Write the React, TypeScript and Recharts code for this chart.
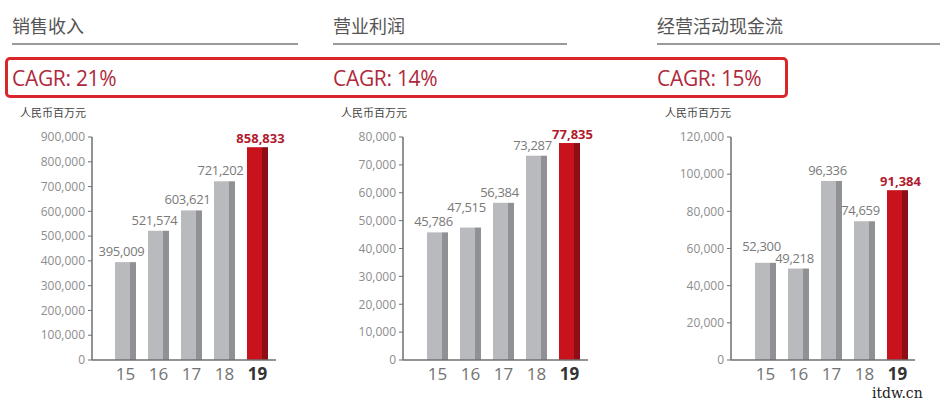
import React from 'react';
import { BarChart, Bar, XAxis, YAxis, LabelList } from 'recharts';

const years = ['15', '16', '17', '18', '19'];
const revenue = [395009, 521574, 603621, 721202, 858833];
const opProfit = [45786, 47515, 56384, 73287, 77835];
const opCashFlow = [52300, 49218, 96336, 74659, 91384];

const revenueTicks = [0, 100000, 200000, 300000, 400000, 500000, 600000, 700000, 800000, 900000];
const profitTicks = [0, 10000, 20000, 30000, 40000, 50000, 60000, 70000, 80000];
const cashTicks = [0, 20000, 40000, 60000, 80000, 100000, 120000];

const titles = ['销售收入', '营业利润', '经营活动现金流'];
const cagrs = ['CAGR: 21%', 'CAGR: 14%', 'CAGR: 15%'];

const GRAY = '#b9babe';
const GRAY_DARK = '#8f9195';
const RED = '#c8131c';
const RED_DARK = '#8e0e17';
const FONT = '"Open Sans", "Noto Sans CJK SC", sans-serif';

const fmt = (v: number) => v.toLocaleString('en-US');

function TwoToneBar(props: any) {
    const { x, y, width, height, payload } = props;
    if (!height || height <= 0) return null;
    const hi = payload.year === '19';
    const strip = Math.round(width * 0.27);
    return (
        <g>
            <rect x={x} y={y} width={width - strip} height={height} fill={hi ? RED : GRAY} />
            <rect x={x + width - strip} y={y} width={strip} height={height} fill={hi ? RED_DARK : GRAY_DARK} />
        </g>
    );
}

// lift: extra px to raise a label so neighbours don't collide (as in the original)
const makeValueLabel = (lift: number[]) => (props: any) => {
    const { x, y, width, value, index } = props;
    const hi = index === 4;
    return (
        <text
            x={x + width / 2 + (hi ? 3 : -4)}
            y={y - (hi ? 4 : 6) - (lift[index] || 0)}
            textAnchor="middle"
            fontFamily={FONT}
            fontSize={13}
            fontWeight={hi ? 700 : 400}
            letterSpacing={hi ? 0 : -0.3}
            fill={hi ? '#b01c2e' : '#7a7a7a'}
        >
            {fmt(value)}
        </text>
    );
};

function XTick(props: any) {
    const { x, y, payload } = props;
    const hi = payload.value === '19';
    return (
        <text x={x} y={y} dy="0.71em" textAnchor="middle" fontFamily={FONT} fontSize={17}
            fontWeight={hi ? 700 : 400} fill={hi ? '#333' : '#727272'}>
            {payload.value}
        </text>
    );
}

interface PanelProps {
    left: number;
    width: number;
    axisWidth: number;
    marginRight: number;
    padLeft: number;
    padRight: number;
    values: number[];
    ticks: number[];
    lift: number[];
}

function Panel({ left, width, axisWidth, marginRight, padLeft, padRight, values, ticks, lift }: PanelProps) {
    const data = years.map((year, i) => ({ year, value: values[i] }));
    const ValueLabel = makeValueLabel(lift);
    return (
        <div style={{ position: 'absolute', left, top: 120 }}>
            <BarChart width={width} height={280} data={data} margin={{ top: 17, right: marginRight, bottom: 10, left: 0 }}>
                <XAxis dataKey="year" height={30} padding={{ left: padLeft, right: padRight }}
                    axisLine={{ stroke: '#6f6f6f', strokeWidth: 1.5 }} tickLine={false} tickSize={0} tickMargin={8}
                    tick={<XTick />} interval={0} />
                <YAxis width={axisWidth} domain={[0, ticks[ticks.length - 1]]} ticks={ticks} interval={0}
                    axisLine={{ stroke: '#6f6f6f', strokeWidth: 1.5 }} tickLine={{ stroke: '#6f6f6f' }}
                    tickSize={4} tickMargin={3} tickFormatter={fmt}
                    tick={{ fontSize: 12, fill: '#8d8d8d', fontFamily: FONT }} />
                <Bar dataKey="value" barSize={21} shape={<TwoToneBar />} isAnimationActive={false}>
                    <LabelList dataKey="value" content={<ValueLabel />} />
                </Bar>
            </BarChart>
        </div>
    );
}

const headerX = [12, 333, 657];
const underlineEnd = [298, 567, 940];

export default function App() {
    return (
        <div style={{ position: 'absolute', left: 0, top: 0, width: 952, height: 400, background: '#fff', fontFamily: FONT, overflow: 'hidden' }}>
            {titles.map((t, i) => (
                <React.Fragment key={t}>
                    <div style={{ position: 'absolute', left: headerX[i], top: 12, fontSize: 18, color: '#555', fontFamily: '"Noto Sans CJK SC", sans-serif', lineHeight: '26px' }}>{t}</div>
                    <div style={{ position: 'absolute', left: headerX[i], top: 43, width: underlineEnd[i] - headerX[i], height: 2, background: '#9a9a9a' }} />
                    <div style={{ position: 'absolute', left: headerX[i], top: 64, fontSize: 21, color: '#ae2a3c', lineHeight: '28px', letterSpacing: -0.3 }}>{cagrs[i]}</div>
                    <div style={{ position: 'absolute', left: headerX[i] + 8, top: 104, fontSize: 11, color: '#444', fontFamily: '"Noto Sans CJK SC", sans-serif', lineHeight: '16px' }}>人民币百万元</div>
                </React.Fragment>
            ))}
            <div style={{ position: 'absolute', left: 5, top: 57, width: 783, height: 41, border: '3.5px solid #d9262b', borderRadius: 5, boxSizing: 'border-box' }} />

            <Panel left={0} width={300} axisWidth={92} marginRight={24} padLeft={17} padRight={2} values={revenue} ticks={revenueTicks} lift={[0, 0, 0, 0, 0]} />
            <Panel left={320} width={280} axisWidth={83} marginRight={12} padLeft={18} padRight={2} values={opProfit} ticks={profitTicks} lift={[0, 10, 0, 0, 0]} />
            <Panel left={640} width={300} axisWidth={91} marginRight={25} padLeft={18} padRight={1} values={opCashFlow} ticks={cashTicks} lift={[6, 0, 0, 0, 0]} />

            <div style={{ position: 'absolute', left: 872, top: 386, fontSize: 14, lineHeight: '14px', fontFamily: '"DejaVu Serif", serif', color: '#222', whiteSpace: 'nowrap' }}>itdw.cn</div>
        </div>
    );
}
